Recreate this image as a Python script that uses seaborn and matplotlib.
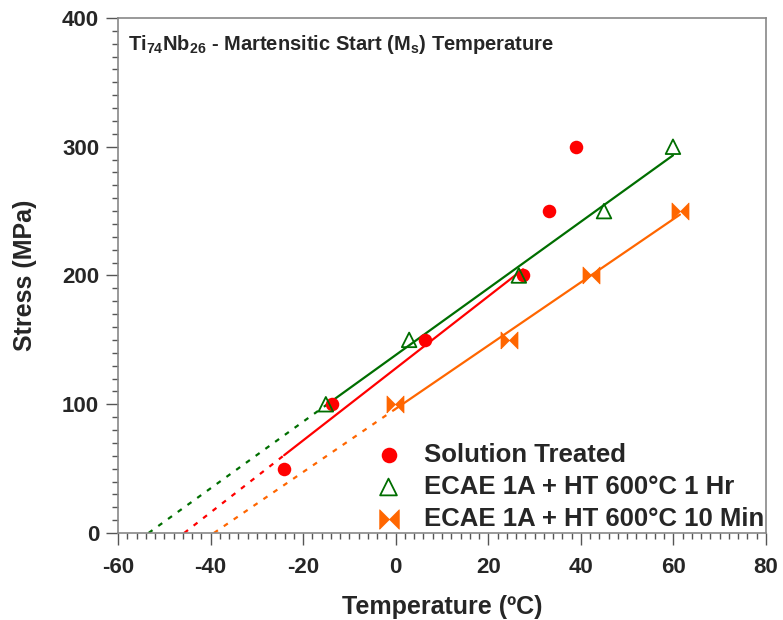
import numpy as np
import pandas as pd
import matplotlib
matplotlib.use("Agg")
import matplotlib.pyplot as plt
import seaborn as sns
from matplotlib import font_manager
from matplotlib.ticker import MultipleLocator

# ---- data ----
st_temp = [-24.1, -13.8, 6.3, 27.5, 33.1, 38.9]
st_stress = [50, 100, 150, 200, 250, 300]
st_fit_count = 4          # the fit uses the first four points
hr_temp = [-15.1, 2.9, 26.6, 45.0, 59.9]
hr_stress = [100, 150, 200, 250, 300]
mn_temp = [-0.2, 24.5, 42.2, 61.4]
mn_stress = [100, 150, 200, 250]
series_labels = ["Solution Treated", "ECAE 1A + HT 600\u00b0C 1 Hr", "ECAE 1A + HT 600\u00b0C 10 Min"]
x_ticks = [-60, -40, -20, 0, 20, 40, 60, 80]
y_ticks = [0, 100, 200, 300, 400]

RED = "#ff0000"
GREEN = "#006e00"
ORANGE = "#ff6600"

sns.set_theme(style="ticks")
plt.rcParams["font.family"] = ["Liberation Sans", "DejaVu Sans"]
plt.rcParams["font.weight"] = "bold"
plt.rcParams["axes.unicode_minus"] = False
plt.rcParams["mathtext.fontset"] = "custom"
plt.rcParams["mathtext.rm"] = "Liberation Sans:bold"
plt.rcParams["mathtext.it"] = "Liberation Sans:bold"
plt.rcParams["mathtext.bf"] = "Liberation Sans:bold"
plt.rcParams["mathtext.default"] = "bf"

names = {f.name for f in font_manager.fontManager.ttflist}
title_family = "Liberation Sans Narrow" if "Liberation Sans Narrow" in names else "Liberation Sans"
title_size = 18 if title_family == "Liberation Sans Narrow" else 14.5

fig = plt.figure(figsize=(7.83, 6.2), dpi=100)
ax = fig.add_axes([0.1507, 0.1403, 0.9783 - 0.1507, 0.971 - 0.1403])

bowtie = [(-1, -1), (-1, 1), (0, 0), (1, 1), (1, -1), (0, 0), (-1, -1)]


def fit_lines(xs, ys, color):
    slope, intercept = np.polyfit(xs, ys, 1)
    x0, x1 = min(xs), max(xs)
    xz = -intercept / slope
    solid = pd.DataFrame({"x": [x0, x1], "y": [slope * x0 + intercept, slope * x1 + intercept]})
    dotted = pd.DataFrame({"x": [xz, x0], "y": [0.0, slope * x0 + intercept]})
    sns.lineplot(data=solid, x="x", y="y", color=color, lw=1.6, ax=ax, sort=False, estimator=None)
    sns.lineplot(data=dotted, x="x", y="y", color=color, lw=1.6, ax=ax, sort=False, estimator=None,
                 dashes=False, linestyle=(0, (2.2, 3.2)))


fit_lines(st_temp[:st_fit_count], st_stress[:st_fit_count], RED)
fit_lines(hr_temp, hr_stress, GREEN)
fit_lines(mn_temp, mn_stress, ORANGE)

sns.scatterplot(x=st_temp, y=st_stress, ax=ax, marker="o", s=95, color=RED, edgecolor=RED,
                linewidth=0, label=series_labels[0], zorder=5)
sns.scatterplot(x=hr_temp, y=hr_stress, ax=ax, marker="^", s=110, facecolor="none", edgecolor=GREEN,
                linewidth=1.3, label=series_labels[1], zorder=5)
sns.scatterplot(x=mn_temp, y=mn_stress, ax=ax, marker=bowtie, s=150, color=ORANGE, edgecolor=ORANGE,
                linewidth=0.5, label=series_labels[2], zorder=5)

ax.set_xlim(-60, 80)
ax.set_ylim(0, 400)
ax.set_xticks(x_ticks)
ax.set_yticks(y_ticks)
ax.xaxis.set_minor_locator(MultipleLocator(2))
ax.yaxis.set_minor_locator(MultipleLocator(10))
ax.tick_params(which="major", length=8.5, width=1, color="#555555", labelsize=16, pad=5)
ax.tick_params(which="minor", length=4, width=1, color="#555555")
ax.tick_params(axis="x", which="major", pad=9)
for lab in ax.get_xticklabels() + ax.get_yticklabels():
    lab.set_fontweight("bold")
for sp in ax.spines.values():
    sp.set_visible(True)
    sp.set_color("#888888")
    sp.set_linewidth(1.2)

ax.set_xlabel("Temperature (\u00baC)", fontsize=18, fontweight="bold", labelpad=12)
ax.set_ylabel("Stress (MPa)", fontsize=18, fontweight="bold", labelpad=18)

ax.text(0.0154, 0.938, r"Ti$_{74}$Nb$_{26}$ - Martensitic Start (M$_{s}$) Temperature",
        transform=ax.transAxes, ha="left", va="baseline", fontsize=title_size,
        fontweight="bold", family=title_family)

leg = ax.legend(loc="lower right", bbox_to_anchor=(1.0, 0.0), frameon=False,
                prop={"size": 18.5, "weight": "bold"}, handletextpad=0.82, labelspacing=0.32,
                borderaxespad=0.0, borderpad=0.08, handlelength=1.1, markerscale=1.15)

fig.savefig("out.png", dpi=100)
